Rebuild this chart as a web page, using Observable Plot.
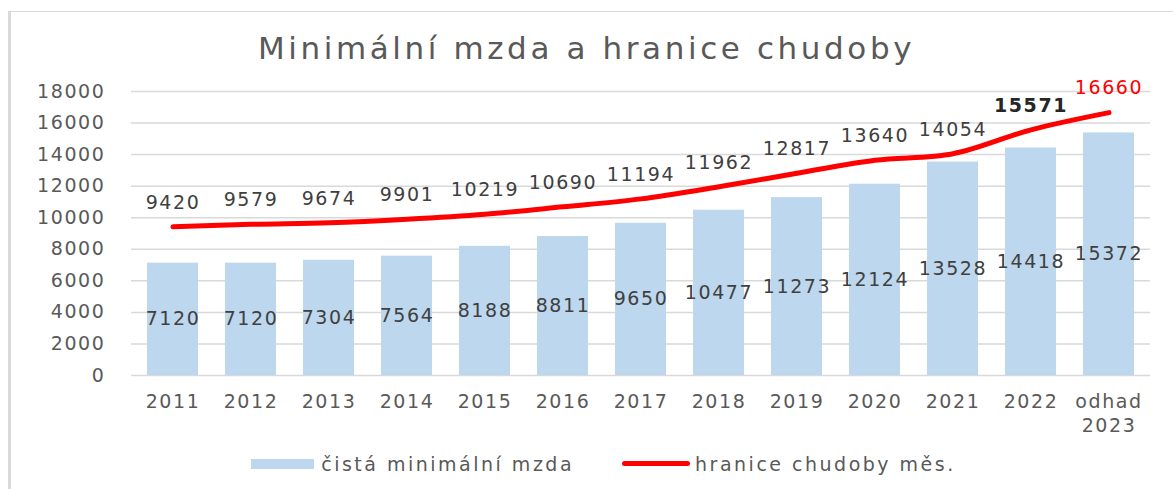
<!DOCTYPE html>
<html>
<head>
<meta charset="utf-8">
<script src="https://cdn.jsdelivr.net/npm/d3@7"></script>
<script src="https://cdn.jsdelivr.net/npm/@observablehq/plot@0.6"></script>
<style>
  html, body { margin: 0; padding: 0; background: white; }
  body { width: 1173px; height: 489px; position: relative; overflow: hidden; font-family: "DejaVu Sans", sans-serif; }
  #frame { position: absolute; left: 8px; top: 11px; width: 1180px; height: 500px; border-left: 3px solid #d9d9d9; border-top: 1px solid #d9d9d9; pointer-events: none; }
  #title { height: 70px; box-sizing: border-box; padding-top: 30px; text-align: center; font-size: 31px; line-height: 36px; color: #595959; letter-spacing: 3.6px; }
  #chart svg { display: block; }
  #legend { height: 49px; display: flex; justify-content: center; align-items: center; font-size: 19px; color: #595959; letter-spacing: 2.5px; padding-bottom: 2px; padding-left: 34px; box-sizing: border-box; }
  .item { display: flex; align-items: center; }
  .sw { width: 63px; height: 10px; background: #bdd7ee; margin-right: 7px; }
  .ln { width: 68px; height: 5px; border-radius: 3px; background: #ff0000; margin-right: 5px; }
</style>
</head>
<body>
<div id="title">Minimální mzda a hranice chudoby</div>
<div id="chart"></div>
<div id="legend">
  <div class="item"><div class="sw"></div><span>čistá minimální mzda</span></div>
  <div class="item" style="margin-left:48px"><div class="ln"></div><span>hranice chudoby měs.</span></div>
</div>
<div id="frame"></div>
<script>
const years = ["2011","2012","2013","2014","2015","2016","2017","2018","2019","2020","2021","2022","odhad\n2023"];
const minWage = [7120,7120,7304,7564,8188,8811,9650,10477,11273,12124,13528,14418,15372];
const povertyLine = [9420,9579,9674,9901,10219,10690,11194,11962,12817,13640,14054,15571,16660];
const yTicks = [0,2000,4000,6000,8000,10000,12000,14000,16000,18000];

const data = years.map((y, i) => ({year: y, wage: minWage[i], poverty: povertyLine[i], i}));

const chart = Plot.plot({
  width: 1173,
  height: 370,
  marginTop: 21,
  marginBottom: 65,
  marginLeft: 131,
  marginRight: 23,
  style: {fontFamily: "DejaVu Sans, sans-serif", fontSize: "19px", color: "#595959", background: "white", letterSpacing: "1.6px", overflow: "visible"},
  x: {domain: years, paddingInner: 0.35, paddingOuter: 0.175, label: null},
  y: {domain: [0, 18000], label: null},
  marks: [
    Plot.gridY(yTicks, {stroke: "#d9d9d9", strokeOpacity: 1, strokeWidth: 1.5}),
    Plot.barY(data, {x: "year", y: "wage", fill: "#bdd7ee"}),
    Plot.line(data, {x: "year", y: "poverty", stroke: "#ff0000", strokeWidth: 5, curve: "catmull-rom", strokeLinecap: "round"}),
    Plot.text(data, {x: "year", y: d => d.wage / 2, text: d => String(d.wage), fill: "#404040", fontSize: 19}),
    Plot.text(data.filter(d => d.i < 11), {x: "year", y: "poverty", text: d => String(d.poverty), dy: -24, fill: "#404040", fontSize: 19}),
    Plot.text(data.filter(d => d.i === 11), {x: "year", y: "poverty", text: d => String(d.poverty), dy: -24, fill: "#262626", fontWeight: "bold", fontSize: 19}),
    Plot.text(data.filter(d => d.i === 12), {x: "year", y: "poverty", text: d => String(d.poverty), dy: -25, fill: "#ff0000", fontSize: 19}),
    Plot.axisY(yTicks, {tickSize: 0, tickPadding: 26, tickFormat: d => String(d), label: null, fontSize: 19}),
    Plot.axisX({tickSize: 0, tickPadding: 16, label: null, fontSize: 19, lineHeight: 1.25})
  ]
});
document.getElementById("chart").appendChild(chart);
</script>
</body>
</html>
